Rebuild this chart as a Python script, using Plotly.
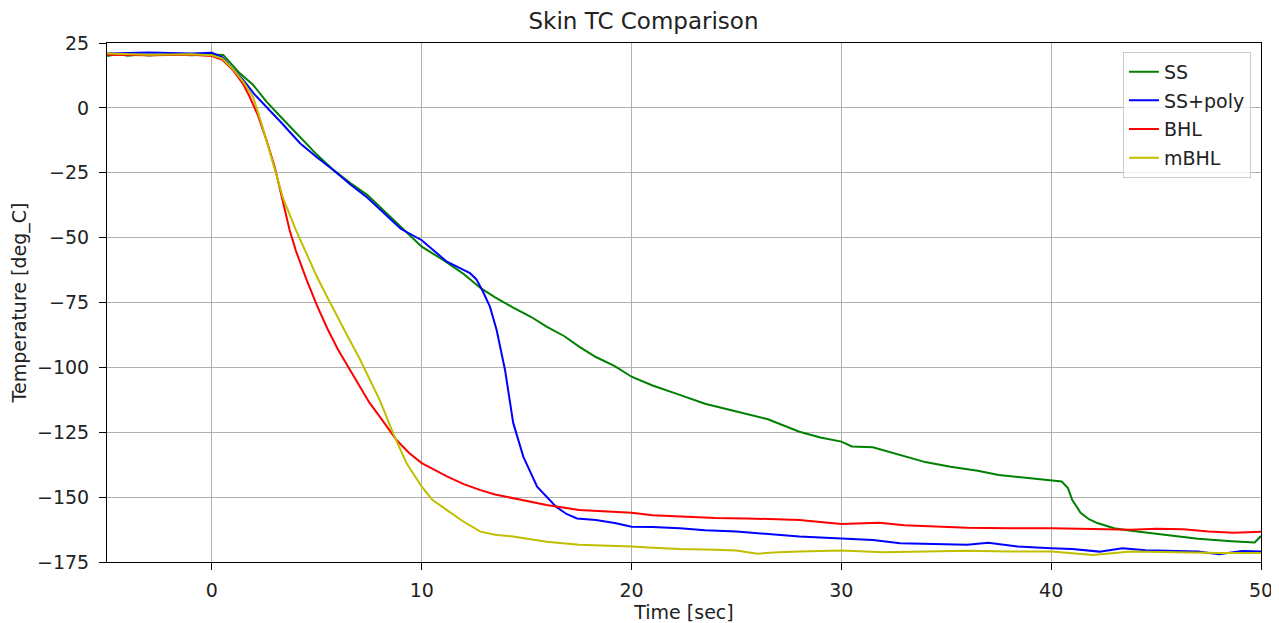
import plotly.graph_objects as go

ss_x = [-5, -4.5, -4, -3.5, -3, -2, -1, 0, 0.54, 1.0, 1.33, 1.97, 2.6, 3.4, 4.2, 5, 5.8, 6.6, 7.4, 8.2, 9.0, 10, 11, 12, 12.8, 13.5, 14.36, 15.2, 15.95, 16.8, 17.5, 18.3, 19.2, 20, 21, 22.3, 23.5, 25, 26.5, 28, 29, 30, 30.5, 31.5, 32.8, 34, 35.2, 36.5, 37.5, 38.5, 39.5, 40, 40.5, 40.8, 41, 41.4, 41.8, 42.2, 43, 43.8, 45.4, 47, 48.6, 49.7, 50]
ss_y = [20, 20.8, 20.1, 20.6, 20.2, 20.7, 20.3, 20.6, 20.4, 16.5, 13.3, 8.8, 2.4, -4.5, -11.1, -18, -24, -29, -33.5, -39.5, -45.8, -53.5, -58.5, -64, -69.4, -73, -77, -80.5, -84.3, -88, -92, -96, -99.5, -103.6, -107, -110.6, -114, -117, -120, -124.8, -127, -128.6, -130.5, -130.8, -133.8, -136.5, -138.3, -139.8, -141.5, -142.3, -143.2, -143.4, -144, -146.5, -151, -156, -158.5, -160, -162, -163, -164.6, -166, -167, -167.5, -165]

poly_x = [-5, -3, -1, 0, 0.5, 1.0, 1.5, 2.0, 2.6, 3.4, 4.2, 5, 5.8, 6.6, 7.4, 8.2, 9.0, 10, 10.6, 11.2, 12.3, 12.6, 12.9, 13.25, 13.57, 13.97, 14.36, 14.84, 15.5, 16.4, 16.9, 17.4, 18.3, 19.2, 20, 21, 22.3, 23.5, 25, 26.5, 28, 30, 31.5, 32.8, 34.5, 36, 37, 38.4, 40, 41, 42.3, 43.4, 44.5, 45.5, 47, 48, 49.1, 50]
poly_y = [21, 21.3, 21, 21.2, 19.5, 15, 10.7, 5.5, 0.5, -6.5, -13.6, -19, -24, -29.5, -34.5, -40.5, -46.6, -51, -55, -59.3, -63.7, -66, -70.5, -76.6, -85.6, -101, -121.4, -134.4, -146, -153.7, -156.5, -158.2, -158.8, -160, -161.4, -161.5, -162, -162.8, -163.2, -164.2, -165.2, -165.9, -166.5, -167.8, -168, -168.4, -167.6, -169, -169.7, -170, -171, -169.7, -170.5, -170.6, -171, -172, -170.8, -171]

bhl_x = [-5, -3, -1, 0, 0.5, 1.0, 1.5, 1.8, 2.2, 2.6, 3.0, 3.24, 3.7, 4.0, 4.5, 5, 5.5, 6, 6.5, 7, 7.5, 8, 8.8, 9.4, 10, 10.5, 11.2, 12, 12.8, 13.5, 14.35, 15.2, 15.95, 17.5, 19, 20, 21, 22.3, 24, 25.5, 27, 28, 30, 31.8, 33, 34.4, 36, 38, 40, 42, 43.8, 45, 46.3, 47.5, 48.7, 50]
bhl_y = [20.5, 20.3, 20.5, 20.0, 18.5, 14.6, 9, 4.3, -3, -12.4, -23, -31.6, -47, -55, -66, -76, -85, -93, -100, -107, -113.5, -119, -128, -133, -136.9, -139, -142, -145, -147.3, -149, -150.4, -152, -153, -155, -155.6, -156, -157, -157.5, -158, -158.2, -158.5, -158.8, -160.4, -159.9, -160.8, -161.4, -161.8, -162, -162, -162.3, -162.6, -162.2, -162.4, -163.2, -163.7, -163.3]

mbhl_x = [-5, -3, -1, 0, 0.5, 1.0, 1.5, 1.96, 2.4, 2.9, 3.4, 4.0, 4.5, 5, 5.5, 6, 6.5, 7, 7.5, 8, 8.64, 9.28, 10, 10.5, 11.2, 12, 12.8, 13.5, 14.35, 15.95, 17.5, 19, 20, 21, 22.3, 24, 25, 26, 27, 28, 30, 32, 34.4, 36, 38, 40, 42, 43.8, 46, 48, 50]
mbhl_y = [21, 20.5, 20.7, 20.3, 19, 15, 10, 4.3, -7, -21.3, -35, -47, -56, -65, -73, -81, -88.5, -96, -104, -112.6, -125.4, -137, -146, -151, -155, -159.5, -163.3, -164.5, -165.2, -167.2, -168.4, -168.7, -169, -169.5, -170, -170.3, -170.6, -171.8, -171.2, -171, -170.6, -171.2, -171, -170.7, -171, -171, -172.3, -171, -171.2, -171.5, -171.5]

series = [
    ("SS", ss_x, ss_y, "#008000"),
    ("SS+poly", poly_x, poly_y, "#0000ff"),
    ("BHL", bhl_x, bhl_y, "#ff0000"),
    ("mBHL", mbhl_x, mbhl_y, "#bfbf00"),
]

fig = go.Figure()
for name, xs, ys, col in series:
    fig.add_trace(go.Scatter(x=xs, y=ys, mode="lines", name=name, legendgroup=name,
                             line=dict(color=col, width=2)))

axis_common = dict(
    showgrid=True, gridcolor="#b0b0b0", gridwidth=1,
    showline=True, linecolor="black", linewidth=1, mirror=True,
    ticks="outside", ticklen=7, tickcolor="black",
    tickfont=dict(size=19, color="#222222"),
    zeroline=False, automargin=False,
)

fig.update_layout(
    width=1271, height=615,
    margin=dict(l=99, r=18, t=35, b=61),
    paper_bgcolor="white", plot_bgcolor="white",
    font=dict(family="DejaVu Sans", color="#222222"),
    title=dict(text="Skin TC Comparison", x=0.5, xanchor="center", y=0.979, yanchor="middle",
               font=dict(size=23, color="#222222")),
    xaxis=dict(range=[-5, 50], tick0=0, dtick=10, ticklabelstandoff=4,
               title=dict(text="Time [sec]", font=dict(size=19), standoff=6), **axis_common),
    yaxis=dict(range=[-175, 25], tick0=25, dtick=25, ticklabelstandoff=6,
               title=dict(text="Temperature [deg_C]", font=dict(size=19), standoff=10), **axis_common),
    legend=dict(x=0.9913, y=0.983, xanchor="right", yanchor="top",
                bordercolor="#cccccc", borderwidth=1, bgcolor="rgba(255,255,255,0.8)",
                font=dict(size=19), tracegroupgap=1, traceorder="grouped"),
)

fig.write_html("out.html")
